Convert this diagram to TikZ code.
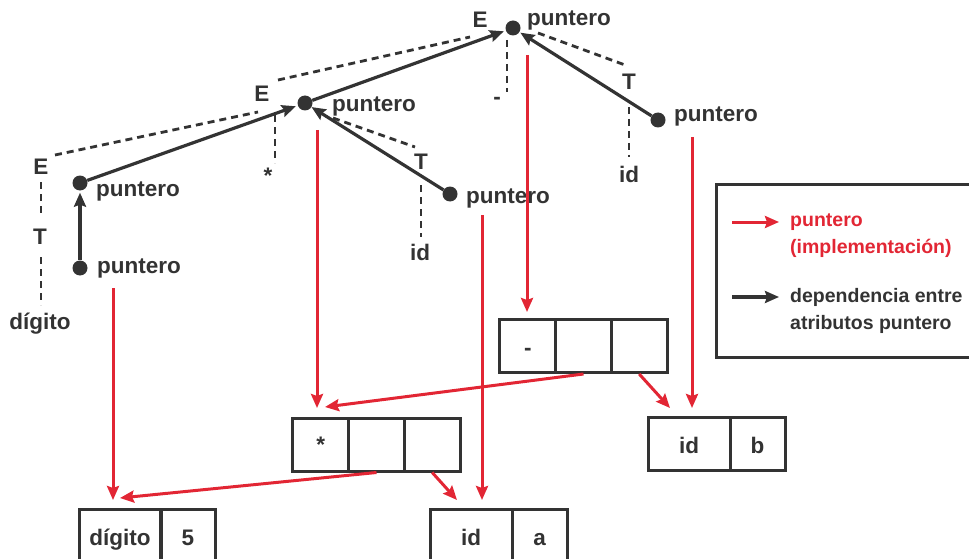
\documentclass[tikz,border=0pt]{standalone}
\usepackage{fontspec}
\setmainfont{Liberation Sans}
\usetikzlibrary{arrows.meta}
\definecolor{ink}{RGB}{51,51,51}
\definecolor{rd}{RGB}{226,38,52}
\begin{document}
\begin{tikzpicture}[x=1pt,y=-1pt,
 lbl/.style={inner sep=0pt, font=\fontsize{22.5}{26}\selectfont\bfseries, text=ink},
 plab/.style={lbl, anchor=west},
 leg/.style={inner sep=0pt, font=\fontsize{19.5}{27}\selectfont\bfseries, align=left, anchor=west},
 dot/.style={circle, fill=ink, inner sep=0pt, minimum size=15pt},
 dep/.style={draw=ink, line width=3.2pt, -{Stealth[length=14pt,width=12pt,inset=2pt]}},
 impl/.style={draw=rd, line width=3pt, -{Stealth[length=14pt,width=12pt,inset=2pt]}},
 tree/.style={draw=ink, line width=2.8pt, dash pattern=on 7pt off 5pt},
 rcell/.style={lbl, draw=ink, line width=3pt, minimum height=53pt},
 rtext/.style={text height=20pt, text depth=1pt},
 rcellmid/.style={rcell, minimum width=55.7pt},
 rcellwide/.style={rcell, rtext, minimum width=82pt},
 rcellnarrow/.style={rcell, rtext, minimum width=55pt}
]
\useasboundingbox (0,0) rectangle (969,559);
\clip (0,0) rectangle (969,559);

% dots (attribute puntero)
\node[dot] (P1) at (513,28) {};
\node[dot] (P2) at (305,103) {};
\node[dot] (P3) at (80,183) {};
\node[dot] (P4) at (80,268) {};
\node[dot] (P5) at (450,194) {};
\node[dot] (P6) at (658,120) {};

\node[plab] (P1lab) at (527,20) {puntero};
\node[plab] (P2lab) at (332,106) {puntero};
\node[plab] (P3lab) at (96,191) {puntero};
\node[plab] (P4lab) at (97,268) {puntero};
\node[plab] (P5lab) at (466,198) {puntero};
\node[plab] (P6lab) at (674,116) {puntero};

% grammar symbols
\node[lbl] (E1) at (480,20) {E};
\node[lbl] (E2) at (262,94) {E};
\node[lbl] (E3) at (41,167) {E};
\node[lbl] (T3) at (40,237) {T};
\node[lbl] (dig) at (40,324) {dígito};
\node[lbl] (star) at (268,176) {*};
\node[lbl] (T2) at (421,162) {T};
\node[lbl] (id2) at (420,252) {id};
\node[lbl] (minus) at (497,101) {-};
\node[lbl] (T1) at (629,82) {T};
\node[lbl] (id1) at (629,174) {id};

% parse tree (dashed)
\draw[tree] ([shift={(16,-14)}]E2.center) -- ([shift={(-10,17)}]E1.center);
\draw[tree] ([shift={(14,-12)}]E3.center) -- ([shift={(-4,18)}]E2.center);
\draw[tree] ([shift={(13,21)}]E2.center) -- ([shift={(7,-13)}]star.center);
\draw[tree] ([shift={(28,15)}]P2.center) -- ([shift={(-6,-15)}]T2.center);
\draw[tree] ([shift={(0,23)}]T2.center) -- ([shift={(1,-15)}]id2.center);
\draw[tree] ([shift={(0,15)}]E3.center) -- ([shift={(1,-20)}]T3.center);
\draw[tree] ([shift={(1,20)}]T3.center) -- ([shift={(1,-19)}]dig.center);
\draw[tree] ([shift={(-6,12)}]P1.center) -- ([shift={(10,-9)}]minus.center);
\draw[tree] ([shift={(25,5)}]P1.center) -- ([shift={(-4,-17)}]T1.center);
\draw[tree] ([shift={(0,25)}]T1.center) -- ([shift={(0,-17)}]id1.center);

% dependencies (solid)
\draw[dep, shorten >=2pt] (P4) -- (P3);
\draw[dep, shorten >=2pt] (P3) -- (P2);
\draw[dep, shorten >=0pt] (P5) -- (P2);
\draw[dep, shorten >=2pt] (P2) -- (P1);
\draw[dep, shorten >=1pt] (P6) -- (P1);

% records
\node[rcellmid, rtext] (M1) at (527.8,346) {-};
\node[rcellmid] (M2) at (583.5,346) {};
\node[rcellmid] (M3) at (639.2,346) {};
\node[rcellmid] (S1) at (320.8,444.5) {*};
\node[rcellmid] (S2) at (376.5,444.5) {};
\node[rcellmid] (S3) at (432.2,444.5) {};
\node[rcellwide] (B1) at (689,443.5) {id};
\node[rcellnarrow] (B2) at (757.5,443.5) {b};
\node[rcellwide] (D1) at (120,535.5) {dígito};
\node[rcellnarrow] (D2) at (188,535.5) {5};
\node[rcellwide] (A1) at (471,535.5) {id};
\node[rcellnarrow] (A2) at (539.5,535.5) {a};

% implementation pointers (red)
\draw[impl] ([shift={(33,20)}]P4.center) -- ([shift={(-7,-35.5)}]D1.center);
\draw[impl] ([shift={(12,27)}]P2.center) -- ([shift={(-3.8,-36.5)}]S1.center);
\draw[impl] ([shift={(32,21)}]P5.center) -- ([shift={(11,-35.5)}]A1.center);
\draw[impl] ([shift={(14,27)}]P1.center) -- ([shift={(-0.8,-34)}]M1.center);
\draw[impl] ([shift={(34,17)}]P6.center) -- ([shift={(3,-35.5)}]B1.center);
\draw[impl] (M2.south) -- ([shift={(4.2,-37.5)}]S1.center);
\draw[impl] (M3.south) -- ([shift={(-19,-35.5)}]B1.center);
\draw[impl] (S2.south) -- ([shift={(0,-37.5)}]D1.center);
\draw[impl] (S3.south) -- ([shift={(-14,-35.5)}]A1.center);

% legend
\node[draw=ink, line width=3pt, anchor=north west, minimum width=290pt, minimum height=173pt, inner sep=0pt] (legend) at (715,183) {};
\node[leg, text=rd] (L1) at (790,235.5) {puntero\\(implementación)};
\node[leg, text=ink] (L2) at (790,311) {dependencia entre\\atributos puntero};
\draw[impl] ([shift={(-58,-13.5)}]L1.west) -- ([shift={(-11,-13.5)}]L1.west);
\draw[dep] ([shift={(-58,-14)}]L2.west) -- ([shift={(-11,-14)}]L2.west);
\end{tikzpicture}
\end{document}
